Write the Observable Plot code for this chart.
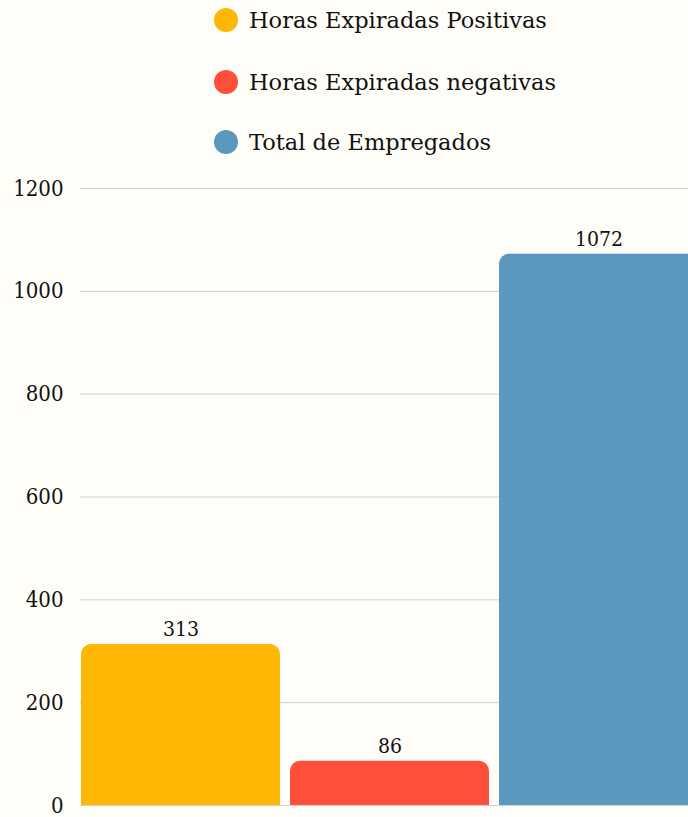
<!DOCTYPE html>
<html><head><meta charset="utf-8">
<script src="https://cdn.jsdelivr.net/npm/d3@7"></script>
<script src="https://cdn.jsdelivr.net/npm/@observablehq/plot@0.6"></script>
<style>
html,body{margin:0;padding:0;background:#fffdf8;overflow:hidden;width:688px;height:817px;font-family:"DejaVu Serif",serif;}
#legend{position:relative;height:165px;}
.item{position:absolute;left:214px;display:flex;align-items:center;height:24px;}
.sw{width:24px;height:24px;border-radius:50%;margin-right:11px;flex:none;}
.lb{font-size:22.5px;color:#111;white-space:nowrap;}
#chart svg{display:block;max-width:none !important;}
</style></head>
<body>
<div id="legend"></div>
<div id="chart"></div>
<script>
const categories = ["Horas Expiradas Positivas", "Horas Expiradas negativas", "Total de Empregados"];
const values = [313, 86, 1072];
const colors = ["#feb705", "#ff4f3b", "#5a98bd"];
const yTicks = [0, 200, 400, 600, 800, 1000, 1200];

const data = categories.map((c, i) => ({category: c, value: values[i]}));

const legend = document.getElementById("legend");
const legendTops = [8, 70, 130];
categories.forEach((c, i) => {
  const it = document.createElement("div");
  it.className = "item";
  it.style.top = legendTops[i] + "px";
  const sw = document.createElement("span");
  sw.className = "sw";
  sw.style.background = colors[i];
  const lb = document.createElement("span");
  lb.className = "lb";
  lb.textContent = c;
  it.appendChild(sw); it.appendChild(lb);
  legend.appendChild(it);
});

const numFont = "'DejaVu Serif Condensed', 'DejaVu Serif', serif";

const chart = Plot.plot({
  width: 698,
  height: 652,
  marginTop: 23,
  marginBottom: 12,
  marginLeft: 80,
  marginRight: 0,
  x: {domain: categories, paddingInner: 0.05, paddingOuter: 0, axis: null},
  y: {domain: [0, 1200], label: null},
  color: {domain: categories, range: colors},
  style: {background: "transparent", fontFamily: numFont, fontSize: "22px", color: "#111", maxWidth: "none"},
  marks: [
    Plot.ruleY(yTicks, {stroke: "#d0d0d0", strokeWidth: 1}),
    Plot.barY(data, {x: "category", y: "value", fill: "category", rx: 10}),
    Plot.barY(data, {x: "category", y: d => d.value / 2, fill: "category"}),
    Plot.text(data, {x: "category", y: "value", text: d => String(d.value), dy: -15, fontSize: 21, fill: "#111"}),
    Plot.axisY({ticks: yTicks, tickFormat: d => String(d), tickSize: 0, tickPadding: 17, fontSize: 22, label: null, fill: "#111"})
  ]
});
document.getElementById("chart").appendChild(chart);
</script>
</body></html>
